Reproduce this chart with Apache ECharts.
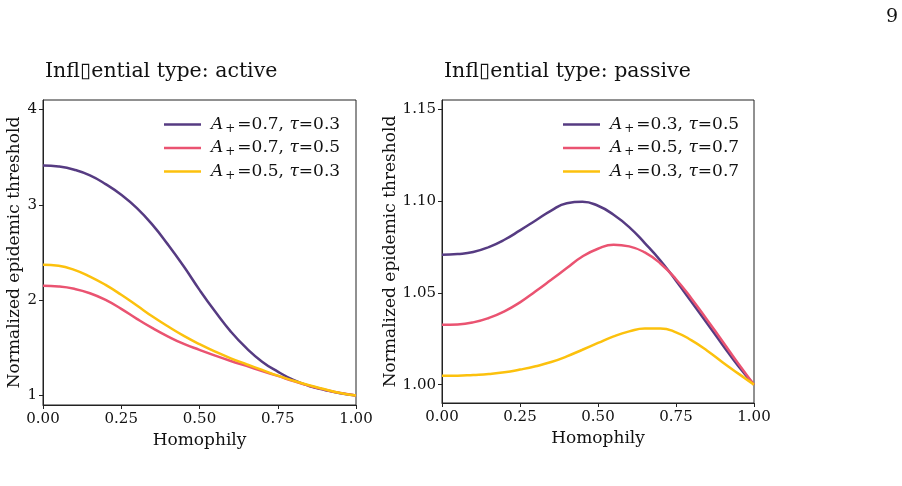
<!DOCTYPE html>
<html>
<head>
<meta charset="utf-8">
<script src="https://cdn.jsdelivr.net/npm/echarts@6/dist/echarts.min.js"></script>
<style>
  html, body { margin: 0; padding: 0; background: #fff; }
  #chart { width: 902px; height: 486px; }
</style>
</head>
<body>
<div id="chart"></div>
<script>
// homophily sample points
const homophily = [0, 0.05, 0.1, 0.15, 0.2, 0.25, 0.3, 0.35, 0.4, 0.45, 0.5,
  0.55, 0.6, 0.65, 0.7, 0.75, 0.8, 0.85, 0.9, 0.95, 1.0];

// left panel: active
const activeA07t03 = [3.414, 3.403, 3.369, 3.309, 3.218, 3.106, 2.966, 2.79, 2.58, 2.353, 2.108,
  1.88, 1.67, 1.496, 1.355, 1.25, 1.163, 1.10, 1.058, 1.023, 1.00];
const activeA07t05 = [2.150, 2.143, 2.119, 2.073, 2.003, 1.909, 1.804, 1.706, 1.618, 1.541, 1.478,
  1.418, 1.362, 1.31, 1.257, 1.205, 1.152, 1.103, 1.061, 1.026, 1.00];
const activeA05t03 = [2.371, 2.360, 2.318, 2.248, 2.16, 2.056, 1.943, 1.828, 1.723, 1.625, 1.538,
  1.46, 1.39, 1.328, 1.268, 1.208, 1.155, 1.107, 1.065, 1.026, 1.00];

// right panel: passive
const passiveA03t05 = [1.0707, 1.0711, 1.0722, 1.0749, 1.0789, 1.0840, 1.0894, 1.0948, 1.0988, 1.0996, 1.0974,
  1.0925, 1.0858, 1.0771, 1.0676, 1.0566, 1.0450, 1.0333, 1.0215, 1.0100, 1.00];
const passiveA05t07 = [1.0326, 1.0328, 1.0339, 1.0363, 1.0399, 1.0448, 1.0508, 1.0571, 1.0635, 1.0698, 1.0740,
  1.0762, 1.0753, 1.0720, 1.0660, 1.0574, 1.0468, 1.0352, 1.0234, 1.0114, 1.00];
const passiveA03t07 = [1.0049, 1.0049, 1.0053, 1.0058, 1.0067, 1.0082, 1.0100, 1.0123, 1.0154, 1.0190, 1.0227,
  1.0263, 1.0290, 1.0306, 1.0306, 1.0285, 1.0241, 1.0185, 1.0121, 1.0060, 1.00];

const xTicks = [0, 0.25, 0.5, 0.75, 1.0];
const leftYTicks = [1, 2, 3, 4];
const rightYTicks = [1.00, 1.05, 1.10, 1.15];

const leftNames = ['a1', 'a2', 'a3'];
const leftLabels = ['{g|}{i|A}{s|+}=0.7, {i|τ}=0.3', '{g|}{i|A}{s|+}=0.7, {i|τ}=0.5', '{g|}{i|A}{s|+}=0.5, {i|τ}=0.3'];
const rightNames = ['p1', 'p2', 'p3'];
const rightLabels = ['{g|}{i|A}{s|+}=0.3, {i|τ}=0.5', '{g|}{i|A}{s|+}=0.5, {i|τ}=0.7', '{g|}{i|A}{s|+}=0.3, {i|τ}=0.7'];

const colors = ['#563b82', '#ea5371', '#fcc10d'];
const serif = "'DejaVu Serif', serif";

function pairs(ys) {
  return homophily.map((x, i) => [x, ys[i]]);
}

let myChart = echarts.init(document.getElementById('chart'));

const richText = {
  g: { width: 5 },
  i: { fontFamily: serif, fontStyle: 'italic', fontSize: 17, color: '#111' },
  s: { fontFamily: serif, fontSize: 12, color: '#111', verticalAlign: 'bottom', padding: [8, 2, 0, 2] }
};

function xAxisFor(idx) {
  return {
    type: 'value', gridIndex: idx, min: 0, max: 1, interval: 0.25,
    name: 'Homophily', nameLocation: 'middle', nameGap: 25,
    nameTextStyle: { fontFamily: serif, fontSize: 17, color: '#111' },
    axisLine: { show: true, lineStyle: { color: '#222', width: 1 } },
    axisTick: { show: true, length: 4, lineStyle: { color: '#222' }, customValues: xTicks },
    axisLabel: { fontFamily: serif, fontSize: 15, color: '#111', margin: 7, customValues: xTicks,
      formatter: v => v.toFixed(2) },
    splitLine: { show: false }
  };
}

function yAxisFor(idx, min, max, ticks, digits, gap) {
  return {
    type: 'value', gridIndex: idx, min: min, max: max,
    name: 'Normalized epidemic threshold', nameLocation: 'middle', nameGap: gap,
    nameTextStyle: { fontFamily: serif, fontSize: 17, color: '#111' },
    axisLine: { show: true, lineStyle: { color: '#222', width: 1 } },
    axisTick: { show: true, length: 4, lineStyle: { color: '#222' }, customValues: ticks },
    axisLabel: { fontFamily: serif, fontSize: 15, color: '#111', margin: 6, customValues: ticks,
      formatter: v => v.toFixed(digits) },
    splitLine: { show: false }
  };
}

function legendFor(names, labels, left) {
  return {
    data: names, left: left, top: 111, orient: 'vertical', itemGap: 5,
    icon: 'rect', itemWidth: 37, itemHeight: 2.5,
    textStyle: { fontFamily: serif, fontSize: 17, color: '#111', rich: richText },
    formatter: name => labels[names.indexOf(name)]
  };
}

function lineSeries(name, ys, idx, color) {
  return {
    name: name, type: 'line', xAxisIndex: idx, yAxisIndex: idx,
    data: pairs(ys), smooth: 0.5, symbol: 'none',
    lineStyle: { color: color, width: 2.5 }, itemStyle: { color: color }
  };
}

let option = {
  animation: false,
  title: [
    { text: 'Infl\u25AFential type: active', left: 40, top: 56,
      textStyle: { fontFamily: serif, fontWeight: 'normal', fontSize: 20.5, color: '#111' } },
    { text: 'Infl\u25AFential type: passive', left: 439, top: 56,
      textStyle: { fontFamily: serif, fontWeight: 'normal', fontSize: 20.5, color: '#111' } },
    { text: '9', left: 881, top: 3,
      textStyle: { fontFamily: serif, fontWeight: 'normal', fontSize: 19, color: '#111' } }
  ],
  grid: [
    { left: 43, right: 546, top: 100, bottom: 81, show: true, borderColor: '#222', borderWidth: 1 },
    { left: 442, right: 148, top: 100, bottom: 83, show: true, borderColor: '#222', borderWidth: 1 }
  ],
  xAxis: [xAxisFor(0), xAxisFor(1)],
  yAxis: [
    yAxisFor(0, 0.9, 4.1, leftYTicks, 0, 20),
    yAxisFor(1, 0.99, 1.155, rightYTicks, 2, 42)
  ],
  legend: [legendFor(leftNames, leftLabels, 159), legendFor(rightNames, rightLabels, 558)],
  series: [
    lineSeries('a1', activeA07t03, 0, colors[0]),
    lineSeries('a2', activeA07t05, 0, colors[1]),
    lineSeries('a3', activeA05t03, 0, colors[2]),
    lineSeries('p1', passiveA03t05, 1, colors[0]),
    lineSeries('p2', passiveA05t07, 1, colors[1]),
    lineSeries('p3', passiveA03t07, 1, colors[2])
  ]
};

myChart.setOption(option);
</script>
</body>
</html>
